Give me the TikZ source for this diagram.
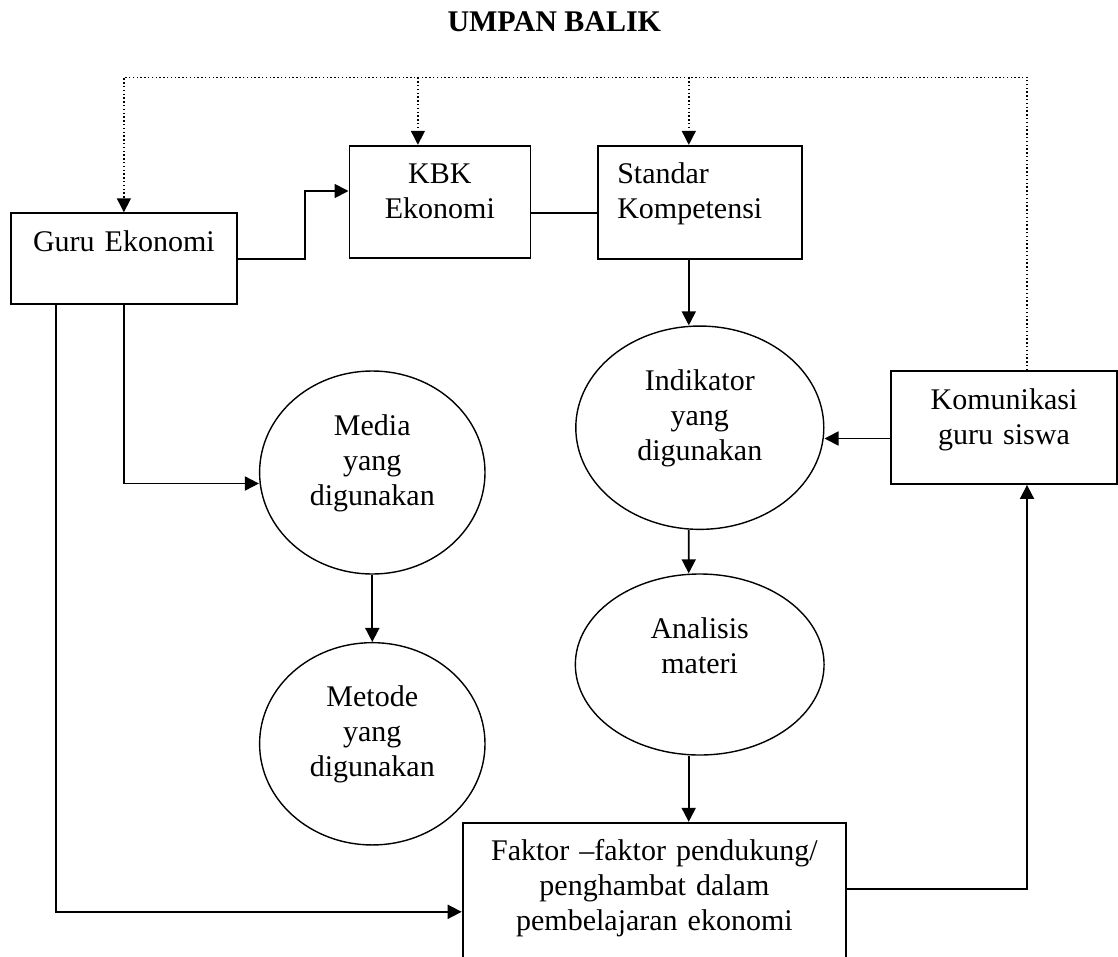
\documentclass[tikz,border=0pt]{standalone}
\usepackage{fontspec}
\setmainfont{Liberation Serif}
\usetikzlibrary{shapes.geometric,arrows.meta}

\tikzset{
  kotak/.style 2 args={draw, line width=1.8pt, inner sep=0pt,
    minimum width=#1, minimum height=#2, text width=#1-20pt,
    align=center, text height=0pt, text depth=#2-76pt,
    font=\fontsize{30}{35}\selectfont},
  lingkar/.style 2 args={draw, ellipse, line width=1.4pt, inner sep=0pt,
    minimum width=#1, minimum height=#2, text width=150pt,
    align=center, text height=0pt, text depth=#2-128pt,
    font=\fontsize{30}{35}\selectfont},
  garis/.style={line width=1.8pt},
  panah/.style={garis, -{Triangle[length=14pt,width=14pt]}},
  umpan/.style={line width=1.4pt, dash pattern=on 1.4pt off 2.4pt,
    -{Triangle[length=14pt,width=14pt]}},
}

\begin{document}
\begin{tikzpicture}[x=1pt,y=-1pt]
  \useasboundingbox (0,0) rectangle (1118,956);

  \node[font=\fontsize{30}{35}\selectfont\bfseries] (judul) at (554.3,21.8) {UMPAN BALIK};

  % kotak
  \node[kotak={226pt}{91pt}] (guru) at (123.9,258.7) {Guru Ekonomi};
  \node[kotak={181pt}{112.6pt}] (kbk) at (439.9,202) {KBK\\Ekonomi};
  \node[kotak={204pt}{113.3pt}, text width=165pt, align=left] (standar) at (699.8,202.4) {Standar\\Kompetensi};
  \node[kotak={225.5pt}{113pt}] (kom) at (1004,427.5) {Komunikasi\\guru siswa};
  \node[kotak={383.6pt}{148pt}] (faktor) at (654.4,896.7) {Faktor --faktor pendukung/\\penghambat dalam\\pembelajaran ekonomi};

  % lingkaran
  \node[lingkar={225.4pt}{203pt}] (media) at (372.3,472.5) {Media\\yang\\digunakan};
  \node[lingkar={225.4pt}{202.3pt}] (metode) at (372.3,743.8) {Metode\\yang\\digunakan};
  \node[lingkar={248pt}{203.3pt}] (indikator) at (699.8,427.7) {Indikator\\yang\\digunakan};
  \node[lingkar={248.7pt}{181pt}] (analisis) at (699.7,664.5) {Analisis\\materi};

  % umpan balik
  \coordinate (atas) at (0,77.3);
  \draw[umpan] ([xshift=23pt]kom.north) |- (guru.north |- atas) -- (guru.north);
  \draw[umpan] ([xshift=-22pt]kbk.north |- atas) -- ([xshift=-22pt]kbk.north);
  \draw[umpan] ([xshift=-11pt]standar.north |- atas) -- ([xshift=-11pt]standar.north);

  % alur
  \draw[panah] (guru.east) -- ++(67.5,0) |- ([yshift=11pt]kbk.west);
  \draw[garis] ([yshift=-11pt]kbk.east) -- ([yshift=-11pt]kbk.east -| standar.west);
  \draw[panah] ([xshift=-11pt]standar.south) -- ([xshift=-11pt]standar.south |- indikator.north);
  \draw[panah] ([yshift=-11pt]kom.west) -- ([yshift=-11pt]kom.west -| indikator.east);
  \draw[panah] ([xshift=-11pt]indikator.south) -- ([xshift=-11pt]analisis.north);
  \draw[panah] ([xshift=-11pt]analisis.south) -- ([xshift=-11pt]analisis.south |- faktor.north);
  \draw[panah] ([yshift=-67pt]faktor.north east) -| ([xshift=23pt]kom.south);
  \draw[panah] (guru.south) |- ([yshift=-11pt]media.west);
  \draw[panah] (media.south) -- (metode.north);
  \draw[panah] ([xshift=-68pt]guru.south) |- ([yshift=-90pt]faktor.north west);
\end{tikzpicture}
\end{document}
